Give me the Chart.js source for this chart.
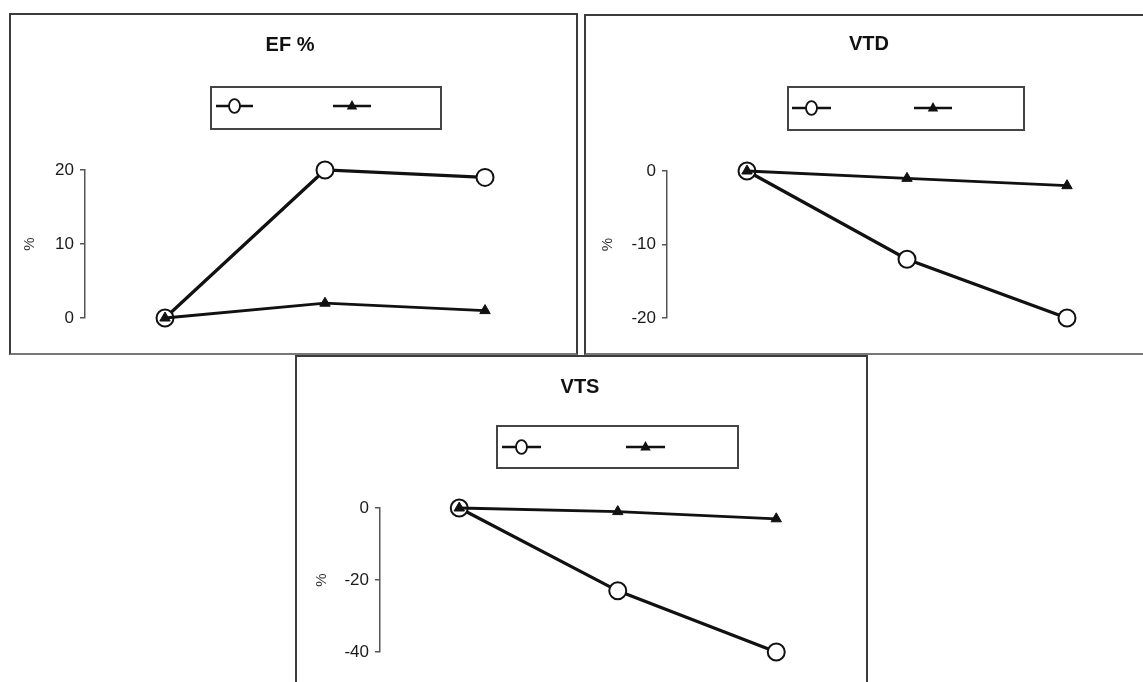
<!DOCTYPE html>
<html>
<head>
<meta charset="utf-8">
<script src="https://cdn.jsdelivr.net/npm/chart.js@4/dist/chart.umd.min.js"></script>
<style>
    body { margin: 0; background: #fff; width: 1143px; height: 682px; overflow: hidden; position: relative; }
    .panel { position: absolute; box-sizing: border-box; border: 2px solid #3c3c3c; background: #fff; }
    .panel canvas { display: block; }
</style>
</head>
<body>
<div class="panel" id="p1" style="left:9px; top:13px; width:569px; height:342px; border-bottom-color:#777;"><canvas id="efChart" width="565" height="338"></canvas></div>
<div class="panel" id="p2" style="left:584px; top:14px; width:580px; height:341px; border-bottom-color:#777;"><canvas id="vtdChart" width="576" height="337"></canvas></div>
<div class="panel" id="p3" style="left:295px; top:355px; width:573px; height:345px;"><canvas id="vtsChart" width="569" height="341"></canvas></div>
<script>
// categories (not labelled in the figure)
const timePoints = ['1', '2', '3'];

// EF %
const efCircle = [0, 20, 19];
const efTriangle = [0, 2, 1];
const efTicks = [0, 10, 20];

// VTD
const vtdCircle = [0, -12, -20];
const vtdTriangle = [0, -1, -2];
const vtdTicks = [-20, -10, 0];

// VTS
const vtsCircle = [0, -23, -40];
const vtsTriangle = [0, -1, -3];
const vtsTicks = [-40, -20, 0];

const FONT = "'Liberation Sans Narrow', 'Arial Narrow', 'Liberation Sans', Arial, sans-serif";

function drawMarker(ctx, style, x, y, r) {
    ctx.beginPath();
    if (style === 'circle') {
        ctx.ellipse(x, y, r, r * 1.25, 0, 0, Math.PI * 2);
        ctx.fillStyle = '#fff';
        ctx.fill();
        ctx.lineWidth = 1.8;
        ctx.strokeStyle = '#111';
        ctx.stroke();
    } else {
        ctx.moveTo(x, y - r);
        ctx.lineTo(x + r * 0.87, y + r * 0.6);
        ctx.lineTo(x - r * 0.87, y + r * 0.6);
        ctx.closePath();
        ctx.fillStyle = '#111';
        ctx.fill();
    }
}

// title + boxed legend (line with marker, no text)
const panelDecor = {
    id: 'panelDecor',
    afterDraw(chart, args, opts) {
        const ctx = chart.ctx;
        ctx.save();
        ctx.fillStyle = '#111';
        ctx.font = `bold 20px ${FONT}`;
        ctx.textAlign = 'center';
        ctx.textBaseline = 'middle';
        ctx.fillText(opts.title, opts.titleX, opts.titleY);

        const b = opts.box;
        ctx.lineWidth = 2;
        ctx.strokeStyle = '#444';
        ctx.strokeRect(b.x, b.y, b.w, b.h);

        chart.data.datasets.forEach((ds, i) => {
            const it = opts.items[i];
            ctx.beginPath();
            ctx.moveTo(it.x1, opts.itemY);
            ctx.lineTo(it.x2, opts.itemY);
            ctx.lineWidth = 2.5;
            ctx.strokeStyle = '#111';
            ctx.stroke();
            drawMarker(ctx, ds.pointStyle, (it.x1 + it.x2) / 2, opts.itemY, ds.pointStyle === 'circle' ? 5.5 : 6);
        });
        ctx.restore();
    }
};

function makePanel(canvasId, circleVals, triangleVals, ticks, layout) {
    const ctx = document.getElementById(canvasId).getContext('2d');
    return new Chart(ctx, {
        type: 'line',
        data: {
            labels: timePoints,
            datasets: [
                {
                    label: '',
                    data: triangleVals,
                    borderColor: '#111',
                    borderWidth: 2.8,
                    pointStyle: 'triangle',
                    pointRadius: 6,
                    pointBackgroundColor: '#111',
                    pointBorderColor: '#111',
                    pointBorderWidth: 1,
                    clip: false,
                    order: 0
                },
                {
                    label: '',
                    data: circleVals,
                    borderColor: '#111',
                    borderWidth: 3.2,
                    pointStyle: 'circle',
                    pointRadius: 8.5,
                    pointBackgroundColor: '#fff',
                    pointBorderColor: '#111',
                    pointBorderWidth: 2,
                    clip: false,
                    order: 1
                }
            ]
        },
        options: {
            responsive: false,
            devicePixelRatio: 1,
            animation: false,
            layout: { padding: layout.padding },
            plugins: {
                legend: { display: false },
                tooltip: { enabled: false },
                title: { display: false },
                panelDecor: layout.decor
            },
            scales: {
                x: { type: 'category', offset: true, display: false },
                y: {
                    min: Math.min(...ticks),
                    max: Math.max(...ticks),
                    afterBuildTicks: scale => { scale.ticks = ticks.map(v => ({ value: v })); },
                    afterFit: scale => { scale.width = layout.axisWidth; },
                    border: { display: true, color: '#555', width: 1.5 },
                    grid: { drawOnChartArea: false, drawTicks: true, tickLength: 5, color: '#555', lineWidth: 1.5 },
                    ticks: { color: '#1a1a1a', padding: 6, font: { family: FONT, size: 17 } },
                    title: { display: true, text: '%', color: '#333', font: { family: FONT, size: 15 }, padding: { top: layout.titlePad, bottom: 0 } }
                }
            }
        },
        plugins: [panelDecor]
    });
}

makePanel('efChart', efCircle, efTriangle, efTicks, {
    padding: { left: 0, top: 155, right: 11, bottom: 35 },
    axisWidth: 74,
    titlePad: 10,
    decor: {
        title: 'EF %', titleX: 279, titleY: 30,
        box: { x: 200, y: 72, w: 230, h: 42 },
        itemY: 91,
        items: [{ x1: 205, x2: 242 }, { x1: 322, x2: 360 }].reverse()
    }
});

makePanel('vtdChart', vtdCircle, vtdTriangle, vtdTicks, {
    padding: { left: 0, top: 155, right: 15, bottom: 35 },
    axisWidth: 81,
    titlePad: 13,
    decor: {
        title: 'VTD', titleX: 283, titleY: 28,
        box: { x: 202, y: 71, w: 236, h: 43 },
        itemY: 92,
        items: [{ x1: 206, x2: 245 }, { x1: 328, x2: 366 }].reverse()
    }
});

makePanel('vtsChart', vtsCircle, vtsTriangle, vtsTicks, {
    padding: { left: 0, top: 151, right: 6, bottom: 46 },
    axisWidth: 83,
    titlePad: 16,
    decor: {
        title: 'VTS', titleX: 283, titleY: 30,
        box: { x: 200, y: 69, w: 241, h: 42 },
        itemY: 90,
        items: [{ x1: 205, x2: 244 }, { x1: 329, x2: 368 }].reverse()
    }
});
</script>
</body>
</html>
